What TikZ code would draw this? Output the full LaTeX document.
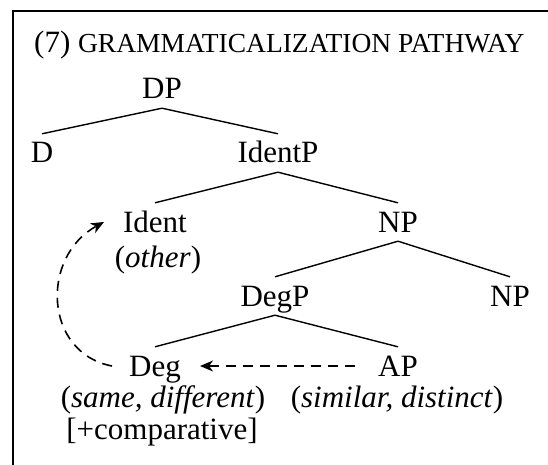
\documentclass[tikz,border=0pt]{standalone}
\usepackage{fontspec}
\setmainfont{Liberation Serif}
\usetikzlibrary{arrows.meta}

\begin{document}
\begin{tikzpicture}[x=1pt,y=-1pt,
  lab/.style={anchor=base,inner sep=0pt,font=\fontsize{31}{36}\selectfont},
  cat/.style={lab,text height=20pt,text depth=0pt,inner ysep=9pt,inner xsep=3pt},
  branch/.style={line width=1.4pt},
  move/.style={line width=1.6pt,dash pattern=on 10pt off 7pt,
    -{Stealth[length=13pt,width=11pt,inset=4pt]}}]
\useasboundingbox (0,0) rectangle (548,465);
\draw[line width=2pt] (13,465) |- (548,11.5); % --- frame

\node[lab,anchor=base west] (title) at (34,53) {(7) {\fontsize{27.5}{30}\selectfont GRAMMATICALIZATION PATHWAY}};

%---- the tree
\node[cat] (dp) at (162,99) {DP};
\node[cat] (d) at (42,163) {D};
\node[cat] (identp) at (278,163) {IdentP};
\node[cat] (ident) at (155,232) {Ident};
\node[lab] (other) at (158,267) {(\textit{other})};
\node[cat] (np) at (398,232) {NP};
\node[cat] (degp) at (275,306) {DegP};
\node[cat] (np2) at (510,306) {NP};
\node[cat] (deg) at (155,376) {Deg};
\node[cat] (ap) at (398,376) {AP};
\node[lab] (same) at (163,407) {(\textit{same, different})};
\node[lab] (similar) at (397,407) {(\textit{similar, distinct})};
\node[lab] (comp) at (162,439) {[+comparative]};

\draw[branch] (dp.south) -- (d.north);
\draw[branch] (dp.south) -- (identp.north);
\draw[branch] (identp.south) -- (ident.north);
\draw[branch] (identp.south) -- (np.north);
\draw[branch] (np.south) -- (degp.north);
\draw[branch] (np.south) -- (np2.north);
\draw[branch] (degp.south) -- (deg.north);
\draw[branch] (degp.south) -- (ap.north);

%---- the pathway
\draw[move] ([xshift=-20pt]ap.west) -- ([xshift=16pt]deg.east);
\draw[move] ([xshift=-14pt]deg.west) .. controls +(-68,-13) and +(-64,35) .. ([xshift=-16pt]ident.west);
\end{tikzpicture}
\end{document}
